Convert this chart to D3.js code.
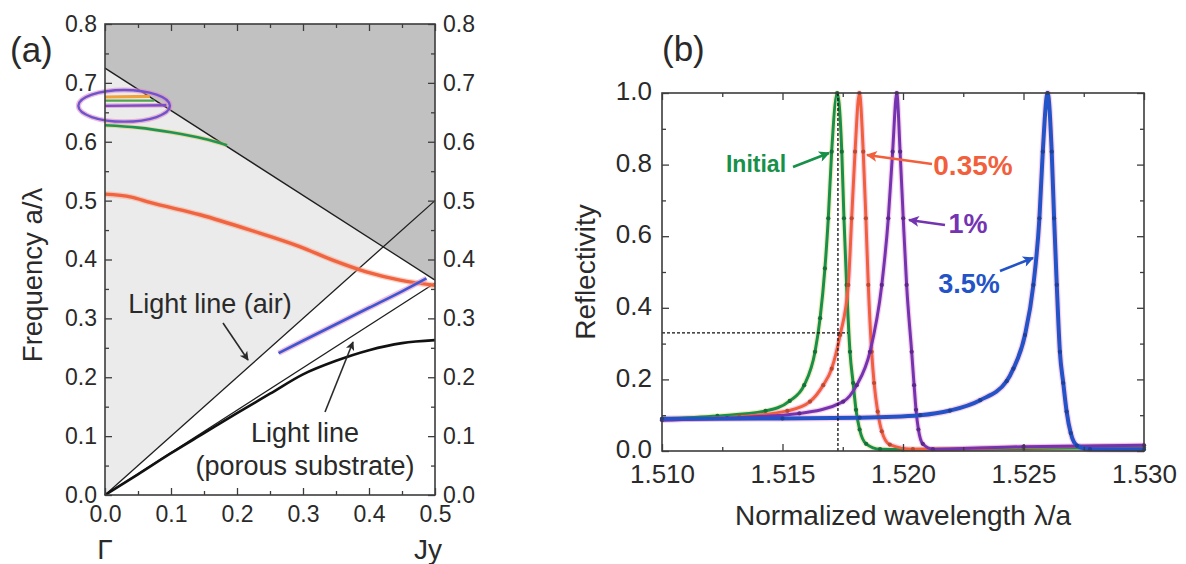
<!DOCTYPE html>
<html>
<head>
<meta charset="utf-8">
<script src="https://cdn.jsdelivr.net/npm/d3@7"></script>
<style>
  body { margin: 0; background: #fff; }
  svg { display: block; font-family: "Liberation Sans", Arial, Helvetica, sans-serif; }
</style>
</head>
<body>
<svg id="chart" width="1186" height="564"></svg>
<script>
// ---------- Panel (a): band diagram along Γ → Jy ----------
const kTicks = [0, 0.1, 0.2, 0.3, 0.4, 0.5];
const kMinor = [0.05, 0.15, 0.25, 0.35, 0.45];
const freqTicks = [0, 0.1, 0.2, 0.3, 0.4, 0.5, 0.6, 0.7, 0.8];
const freqMinor = [0.05, 0.15, 0.25, 0.35, 0.45, 0.55, 0.65, 0.75];

// light lines (k, a/λ)
const airLightLine = [[0, 0], [0.5, 0.5]];
const foldedAirLine = [[0, 0.725], [0.5, 0.365]];
const porousLightLine = [[0, 0], [0.5, 0.36]];

// photonic bands (k, a/λ)
const bandGuided = [[0, 0], [0.05, 0.035], [0.1, 0.071], [0.15, 0.105], [0.2, 0.139],
  [0.25, 0.172], [0.3, 0.205], [0.35, 0.228], [0.4, 0.246], [0.45, 0.258], [0.5, 0.263]];
const bandRed = [[0, 0.511], [0.04, 0.506], [0.068, 0.497], [0.144, 0.476], [0.22, 0.45],
  [0.295, 0.422], [0.345, 0.399], [0.396, 0.379], [0.447, 0.365], [0.5, 0.356]];
const bandBlue = [[0.263, 0.241], [0.3, 0.262], [0.35, 0.29], [0.4, 0.318], [0.45, 0.346], [0.487, 0.368]];
const bandGreen = [[0, 0.628], [0.05, 0.624], [0.1, 0.616], [0.15, 0.605], [0.185, 0.594]];
const bandTopOrange = [[0, 0.676], [0.068, 0.677]];
const bandTopGreen = [[0, 0.670], [0.075, 0.670]];
const bandTopPurple = [[0, 0.661], [0.093, 0.662]];
// highlighted group of modes near Γ: centre, radii
const highlightCenter = [0.029, 0.661];
const highlightRadii = [0.0694, 0.0269];

// ---------- Panel (b): reflectivity spectra ----------
const wlTicks = [1.510, 1.515, 1.520, 1.525, 1.530];
const wlMinor = [1.5125, 1.5175, 1.5225, 1.5275];
const reflTicks = [0, 0.2, 0.4, 0.6, 0.8, 1.0];
const reflMinor = [0.1, 0.3, 0.5, 0.7, 0.9];

const specInitial = [[1.5100, 0.090], [1.5123, 0.098], [1.5143, 0.112], [1.5153, 0.140],
  [1.5159, 0.184], [1.51635, 0.277], [1.51656, 0.371], [1.51676, 0.51], [1.5169, 0.65],
  [1.51704, 0.836], [1.51727, 1.0], [1.51746, 0.836], [1.51755, 0.65], [1.51766, 0.464],
  [1.51780, 0.277], [1.51793, 0.19], [1.51805, 0.115], [1.51820, 0.06], [1.51847, 0.02],
  [1.51905, 0.005], [1.5200, 0.004], [1.5250, 0.007], [1.5300, 0.010]];
const spec035 = [[1.5100, 0.088], [1.5132, 0.096], [1.5152, 0.112], [1.51614, 0.138],
  [1.51669, 0.184], [1.51704, 0.23], [1.51739, 0.324], [1.51773, 0.464], [1.51787, 0.65],
  [1.51801, 0.836], [1.51819, 1.0], [1.51835, 0.836], [1.51846, 0.65], [1.51856, 0.464],
  [1.5187, 0.277], [1.5188, 0.19], [1.51895, 0.11], [1.51912, 0.055], [1.51945, 0.018],
  [1.52041, 0.005], [1.5250, 0.010], [1.5300, 0.015]];
const spec1 = [[1.5100, 0.086], [1.5127, 0.092], [1.5157, 0.105], [1.51752, 0.138],
  [1.51808, 0.184], [1.51863, 0.277], [1.51912, 0.464], [1.51939, 0.65], [1.51957, 0.836],
  [1.51974, 1.0], [1.51988, 0.836], [1.52001, 0.65], [1.52015, 0.464], [1.52036, 0.277],
  [1.52046, 0.184], [1.52054, 0.115], [1.52064, 0.06], [1.52082, 0.02], [1.52124, 0.005],
  [1.5250, 0.012], [1.5300, 0.016]];
const spec35 = [[1.5100, 0.090], [1.5150, 0.091], [1.5182, 0.093], [1.52071, 0.100],
  [1.52195, 0.113], [1.5232, 0.142], [1.5243, 0.195], [1.52458, 0.23], [1.52506, 0.324],
  [1.52541, 0.464], [1.52566, 0.65], [1.5258, 0.836], [1.52600, 1.0], [1.52617, 0.836],
  [1.52627, 0.65], [1.52638, 0.464], [1.52651, 0.277], [1.52665, 0.19], [1.52679, 0.11],
  [1.52696, 0.05], [1.52722, 0.015], [1.52776, 0.005], [1.5300, 0.004]];

const guideWavelength = 1.5173;
const guideReflectivity = 0.33;

const seriesNames = ["Initial", "0.35%", "1%", "3.5%"];
const seriesColors = ["#17904a", "#f25f3c", "#7434b2", "#2353c6"];

// ---------- drawing ----------
const svg = d3.select("#chart");
const INK = "#2a2a2a";
const AXIS = "#3c3c3c";

const defs = svg.append("defs");
function arrowHead(id, color, w, h) {
  defs.append("marker").attr("id", id)
    .attr("viewBox", "0 0 10 10").attr("refX", 9).attr("refY", 5)
    .attr("markerUnits", "userSpaceOnUse").attr("markerWidth", w).attr("markerHeight", h)
    .attr("orient", "auto")
    .append("path").attr("d", "M0,0 L10,5 L0,10 L2.5,5 Z").attr("fill", color);
}
arrowHead("ah-black", INK, 12, 9);
seriesColors.forEach((c, i) => arrowHead("ah-" + i, c, 15, 11));

function text(g, x, y, str, size, opts = {}) {
  return g.append("text").attr("x", x).attr("y", y).text(str)
    .attr("font-size", size).attr("fill", opts.fill || INK)
    .attr("font-weight", opts.weight || "normal")
    .attr("text-anchor", opts.anchor || "middle");
}

function frameAxes(g, xs, ys, xMaj, xMin, yMaj, yMin, o) {
  const [x0, x1] = xs.range(), [y0, y1] = ys.range();
  const style = sel => {
    sel.select(".domain").remove();
    sel.selectAll("line").attr("stroke", AXIS).attr("stroke-width", 1.3);
    sel.selectAll("text").attr("fill", INK).attr("font-size", o.fs)
      .attr("font-family", "Liberation Sans, Arial, sans-serif");
  };
  const gx = g.append("g").attr("transform", `translate(0,${y0})`);
  gx.call(d3.axisBottom(xs).tickValues(xMaj).tickSize(-7).tickPadding(o.xPad).tickFormat(o.xFmt)).call(style);
  gx.append("g").call(d3.axisBottom(xs).tickValues(xMin).tickSize(-4).tickFormat("")).call(style);
  const gt = g.append("g").attr("transform", `translate(0,${y1})`);
  gt.call(d3.axisTop(xs).tickValues(xMaj).tickSize(-7).tickFormat("")).call(style);
  gt.append("g").call(d3.axisTop(xs).tickValues(xMin).tickSize(-4).tickFormat("")).call(style);
  const gl = g.append("g").attr("transform", `translate(${x0},0)`);
  gl.call(d3.axisLeft(ys).tickValues(yMaj).tickSize(-7).tickPadding(o.yPad).tickFormat(o.yFmt)).call(style);
  gl.selectAll(".tick text").attr("dy", o.yDy);
  gl.append("g").call(d3.axisLeft(ys).tickValues(yMin).tickSize(-4).tickFormat("")).call(style);
  const gr = g.append("g").attr("transform", `translate(${x1},0)`);
  gr.call(d3.axisRight(ys).tickValues(yMaj).tickSize(-7).tickPadding(o.yPad)
    .tickFormat(o.rightLabels ? o.yFmt : "")).call(style);
  gr.selectAll(".tick text").attr("dy", o.yDy);
  gr.append("g").call(d3.axisRight(ys).tickValues(yMin).tickSize(-4).tickFormat("")).call(style);
  g.append("rect").attr("x", x0).attr("y", y1).attr("width", x1 - x0).attr("height", y0 - y1)
    .attr("fill", "none").attr("stroke", AXIS).attr("stroke-width", 1.6);
}

// ----- panel (a) -----
const ax = d3.scaleLinear().domain([0, 0.5]).range([105, 435]);
const ay = d3.scaleLinear().domain([0, 0.8]).range([495, 24]);
const ga = svg.append("g");
const pathA = d3.line().x(d => ax(d[0])).y(d => ay(d[1]));
const curveA = d3.line().x(d => ax(d[0])).y(d => ay(d[1])).curve(d3.curveMonotoneX);
const fTop = ay.domain()[1];

// region above the air light line, then the region above the folded light line
ga.append("path").attr("d", pathA([...airLightLine, [airLightLine[1][0], fTop], [0, fTop]]) + "Z")
  .attr("fill", "#ebebeb");
ga.append("path").attr("d", pathA([...foldedAirLine, [foldedAirLine[1][0], fTop], [0, fTop]]) + "Z")
  .attr("fill", "#c1c1c1");

[airLightLine, foldedAirLine, porousLightLine].forEach(l =>
  ga.append("path").attr("d", pathA(l)).attr("fill", "none").attr("stroke", "#1e1e1e").attr("stroke-width", 1.3));

ga.append("path").attr("d", curveA(bandGuided)).attr("fill", "none").attr("stroke", "#111").attr("stroke-width", 2.6);
ga.append("path").attr("d", curveA(bandRed)).attr("fill", "none").attr("stroke", "#f7a88f").attr("stroke-width", 6).attr("opacity", 0.5);
ga.append("path").attr("d", curveA(bandRed)).attr("fill", "none").attr("stroke", "#f0643f").attr("stroke-width", 3.4);
ga.append("path").attr("d", curveA(bandBlue)).attr("fill", "none").attr("stroke", "#ea8fc0").attr("stroke-width", 5.5).attr("opacity", 0.6);
ga.append("path").attr("d", curveA(bandBlue)).attr("fill", "none").attr("stroke", "#3a57d4").attr("stroke-width", 2.6);
ga.append("path").attr("d", curveA(bandGreen)).attr("fill", "none").attr("stroke", "#e6c44a").attr("stroke-width", 4.5).attr("opacity", 0.5);
ga.append("path").attr("d", curveA(bandGreen)).attr("fill", "none").attr("stroke", "#1f9457").attr("stroke-width", 2.6);
ga.append("path").attr("d", pathA(bandTopOrange)).attr("fill", "none").attr("stroke", "#f2a13a").attr("stroke-width", 3.2);
ga.append("path").attr("d", pathA(bandTopGreen)).attr("fill", "none").attr("stroke", "#4ea64c").attr("stroke-width", 2.2);
ga.append("path").attr("d", pathA(bandTopPurple)).attr("fill", "none").attr("stroke", "#e27ab8").attr("stroke-width", 4.5).attr("opacity", 0.55);
ga.append("path").attr("d", pathA(bandTopPurple)).attr("fill", "none").attr("stroke", "#7b4ec8").attr("stroke-width", 2.4);

const ecx = ax(highlightCenter[0]), ecy = ay(highlightCenter[1]);
const erx = ax(highlightCenter[0] + highlightRadii[0]) - ecx;
const ery = ecy - ay(highlightCenter[1] + highlightRadii[1]);
ga.append("ellipse").attr("cx", ecx).attr("cy", ecy).attr("rx", erx).attr("ry", ery)
  .attr("fill", "none").attr("stroke", "#e48ac4").attr("stroke-width", 5).attr("opacity", 0.6);
ga.append("ellipse").attr("cx", ecx).attr("cy", ecy).attr("rx", erx).attr("ry", ery)
  .attr("fill", "none").attr("stroke", "#6c55cc").attr("stroke-width", 2.4);

frameAxes(ga, ax, ay, kTicks, kMinor, freqTicks, freqMinor, {
  fs: 23, xPad: 11, yPad: 8, yDy: "0.32em", xFmt: d3.format(".1f"), yFmt: d3.format(".1f"), rightLabels: true
});

text(ga, 10, 62, "(a)", 35, { anchor: "start" });
text(ga, 0, 0, "Frequency a/λ", 27.5).attr("transform", "translate(42,275) rotate(-90)");
text(ga, ax(0), 559, "Γ", 28);
text(ga, ax(0.5) - 7, 559, "Jy", 28);

text(ga, 210, 313, "Light line (air)", 27);
ga.append("line").attr("x1", 223).attr("y1", 323).attr("x2", 248).attr("y2", 360)
  .attr("stroke", INK).attr("stroke-width", 1.6).attr("marker-end", "url(#ah-black)");
text(ga, 305, 442, "Light line", 27);
text(ga, 305, 475, "(porous substrate)", 27);
ga.append("line").attr("x1", 325).attr("y1", 412).attr("x2", 353).attr("y2", 342)
  .attr("stroke", INK).attr("stroke-width", 1.6).attr("marker-end", "url(#ah-black)");

// ----- panel (b) -----
const bx = d3.scaleLinear().domain([1.510, 1.530]).range([662, 1144]);
const by = d3.scaleLinear().domain([0, 1]).range([451, 93]);
const gb = svg.append("g");
const curveB = d3.line().x(d => bx(d[0])).y(d => by(d[1])).curve(d3.curveMonotoneX);

const spectra = [specInitial, spec035, spec1, spec35];
spectra.forEach((s, i) => {
  gb.append("path").attr("d", curveB(s)).attr("fill", "none")
    .attr("stroke", i === 0 ? "#e7d27a" : "#ee9ccd").attr("stroke-width", i === 3 ? 6.5 : 5.5).attr("opacity", 0.45);
});
spectra.forEach((s, i) => {
  gb.append("path").attr("d", curveB(s)).attr("fill", "none")
    .attr("stroke", seriesColors[i]).attr("stroke-width", i === 3 ? 4 : 3);
  gb.append("g").selectAll("circle").data(s).join("circle")
    .attr("cx", d => bx(d[0])).attr("cy", d => by(d[1])).attr("r", 2.1)
    .attr("fill", d3.color(seriesColors[i]).darker(0.7));
});

// guide lines at the initial resonance
gb.append("line").attr("x1", bx(guideWavelength)).attr("x2", bx(guideWavelength))
  .attr("y1", by(0)).attr("y2", by(1))
  .attr("stroke", "#111").attr("stroke-width", 1.3).attr("stroke-dasharray", "3,2");
gb.append("line").attr("x1", bx(1.510)).attr("x2", bx(1.51772))
  .attr("y1", by(guideReflectivity)).attr("y2", by(guideReflectivity))
  .attr("stroke", "#111").attr("stroke-width", 1.3).attr("stroke-dasharray", "3,2");

frameAxes(gb, bx, by, wlTicks, wlMinor, reflTicks, reflMinor, {
  fs: 26, xPad: 14, yPad: 10, yDy: "0.26em", xFmt: d3.format(".3f"), yFmt: d3.format(".1f"), rightLabels: false
});

text(gb, 662, 61, "(b)", 35, { anchor: "start" });
text(gb, 0, 0, "Reflectivity", 28).attr("transform", "translate(595,272) rotate(-90)");
text(gb, 903, 525, "Normalized wavelength λ/a", 28);

// series annotations with arrows
const notes = [
  { label: seriesNames[0], x: 756, y: 172, fs: 23, from: [793, 167], to: [829, 153] },
  { label: seriesNames[1], x: 973, y: 175, fs: 28, from: [932, 164], to: [867, 155] },
  { label: seriesNames[2], x: 968, y: 233, fs: 27, from: [945, 225], to: [909, 220] },
  { label: seriesNames[3], x: 969, y: 293, fs: 27, from: [1000, 271], to: [1033, 258] }
];
notes.forEach((n, i) => {
  text(gb, n.x, n.y, n.label, n.fs, { fill: seriesColors[i], weight: "bold" });
  gb.append("line").attr("x1", n.from[0]).attr("y1", n.from[1]).attr("x2", n.to[0]).attr("y2", n.to[1])
    .attr("stroke", seriesColors[i]).attr("stroke-width", 2.6).attr("marker-end", `url(#ah-${i})`);
});
</script>
</body>
</html>
